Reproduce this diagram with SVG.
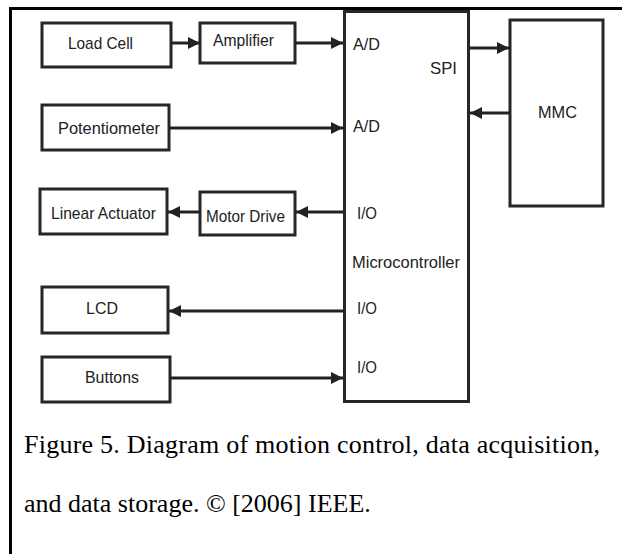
<svg xmlns="http://www.w3.org/2000/svg" width="622" height="554" viewBox="0 0 622 554">
<defs>
<marker id="ah" viewBox="0 0 12 12" refX="12" refY="6" markerWidth="12" markerHeight="12" markerUnits="userSpaceOnUse" orient="auto">
<path d="M0,0 L12,6 L0,12 Z" fill="#222"/>
</marker>
<style>
.box{fill:#fff;stroke:#262626;stroke-width:3}
.lbl{font-family:"Liberation Sans",Arial,sans-serif;font-size:17px;fill:#222}
.cn{stroke:#222;stroke-width:3;fill:none;marker-end:url(#ah)}
.cap{font-family:"Liberation Serif","Times New Roman",serif;font-size:26px;fill:#000}
</style>
</defs>
<rect width="622" height="554" fill="#fff"/>
<path d="M10.5,554 V8.5 H622" fill="none" stroke="#000" stroke-width="3"/>

<g id="load-cell"><rect class="box" x="42" y="23" width="129" height="44"/><text class="lbl" x="68" y="49" textLength="65" lengthAdjust="spacingAndGlyphs">Load Cell</text></g>
<g id="amplifier"><rect class="box" x="200" y="23" width="95" height="40"/><text class="lbl" x="213" y="46" textLength="61" lengthAdjust="spacingAndGlyphs">Amplifier</text></g>
<g id="potentiometer"><rect class="box" x="42" y="105" width="127" height="45"/><text class="lbl" x="58" y="134" textLength="102" lengthAdjust="spacingAndGlyphs">Potentiometer</text></g>
<g id="linear-actuator"><rect class="box" x="40" y="189" width="127" height="45"/><text class="lbl" x="51" y="219" textLength="105" lengthAdjust="spacingAndGlyphs">Linear Actuator</text></g>
<g id="motor-drive"><rect class="box" x="200" y="192" width="95" height="43"/><text class="lbl" x="206" y="222" textLength="79" lengthAdjust="spacingAndGlyphs">Motor Drive</text></g>
<g id="lcd"><rect class="box" x="42" y="287" width="126" height="46"/><text class="lbl" x="86" y="314" textLength="32" lengthAdjust="spacingAndGlyphs">LCD</text></g>
<g id="buttons"><rect class="box" x="42" y="357" width="128" height="45"/><text class="lbl" x="85" y="383" textLength="54" lengthAdjust="spacingAndGlyphs">Buttons</text></g>
<g id="microcontroller"><rect class="box" x="344.5" y="11.5" width="124" height="390"/>
<text class="lbl" x="353" y="50" textLength="27" lengthAdjust="spacingAndGlyphs">A/D</text>
<text class="lbl" x="430" y="74" textLength="27" lengthAdjust="spacingAndGlyphs">SPI</text>
<text class="lbl" x="353" y="132" textLength="27" lengthAdjust="spacingAndGlyphs">A/D</text>
<text class="lbl" x="357" y="219" textLength="20" lengthAdjust="spacingAndGlyphs">I/O</text>
<text class="lbl" x="352" y="268" textLength="108" lengthAdjust="spacingAndGlyphs">Microcontroller</text>
<text class="lbl" x="357" y="314" textLength="20" lengthAdjust="spacingAndGlyphs">I/O</text>
<text class="lbl" x="357" y="373" textLength="20" lengthAdjust="spacingAndGlyphs">I/O</text>
</g>
<g id="mmc"><rect class="box" x="510" y="20" width="93" height="186"/><text class="lbl" x="538" y="118" textLength="39" lengthAdjust="spacingAndGlyphs">MMC</text></g>

<g id="connectors">
<line class="cn" x1="171" y1="43" x2="200" y2="43"/>
<line class="cn" x1="295" y1="43" x2="343" y2="43"/>
<line class="cn" x1="169" y1="128" x2="343" y2="128"/>
<line class="cn" x1="344" y1="212" x2="296" y2="212"/>
<line class="cn" x1="200" y1="212" x2="168" y2="212"/>
<line class="cn" x1="344" y1="311" x2="169" y2="311"/>
<line class="cn" x1="170" y1="378" x2="343" y2="378"/>
<line class="cn" x1="469" y1="48" x2="509" y2="48"/>
<line class="cn" x1="510" y1="113" x2="470" y2="113"/>
</g>

<g id="caption">
<text class="cap" x="24" y="453" textLength="576" lengthAdjust="spacing">Figure 5. Diagram of motion control, data acquisition,</text>
<text class="cap" x="24" y="512">and data storage. © [2006] IEEE.</text>
</g>
</svg>
